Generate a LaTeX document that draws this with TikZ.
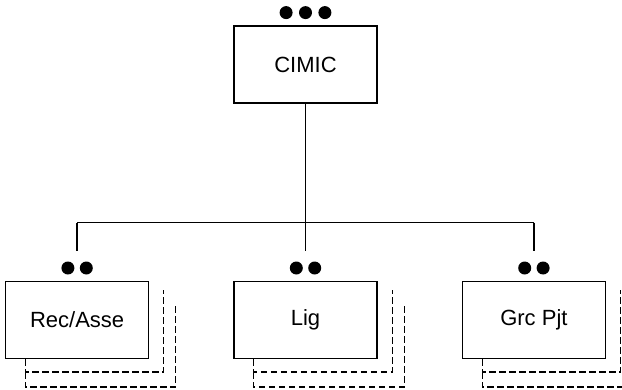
\documentclass[tikz,border=0pt]{standalone}
\usepackage{fontspec}
\setmainfont{Liberation Sans}
\usetikzlibrary{positioning}

\tikzset{
	unitbox/.style={draw, line width=1.4pt, minimum width=143pt, minimum height=77pt, inner sep=0pt, font=\fontsize{22}{26}\selectfont},
	dot/.style={circle, fill, inner sep=0pt, minimum size=13pt},
	link/.style={line width=1.3pt},
	shadowline/.style={line width=1.3pt, dash pattern=on 6.5pt off 3.5pt}
}

\begin{document}
\begin{tikzpicture}[x=1pt, y=-1pt]
	\useasboundingbox (0,0) rectangle (622,389);

	\node[unitbox] (cimic) at (305.5,64.5) {CIMIC};
	\node[unitbox, below=177pt of cimic] (lig) {Lig};
	\node[unitbox, left=84pt of lig] (rec) {Rec/Asse};
	\node[unitbox, right=84pt of lig] (grc) {Grc Pjt};

	% three dots over the head unit, two over each sub unit
	\node[dot, above=6pt of cimic] (cimicDot2) {};
	\node[dot, left=6pt of cimicDot2] (cimicDot1) {};
	\node[dot, right=6pt of cimicDot2] (cimicDot3) {};
	\foreach \b in {rec,lig,grc}{
		\node[dot, above=6pt of \b.north, xshift=-9.2pt] (\b Dot1) {};
		\node[dot, above=6pt of \b.north, xshift=9.2pt] (\b Dot2) {};
	}

	% tree lines
	\coordinate (bus) at (0,222.5);
	\draw[link] (cimic.south) -- (cimic.south |- bus);
	\draw[link] (rec |- bus) -- (grc |- bus);
	\foreach \b in {rec,lig,grc}{
		\coordinate (\b Top) at ([yshift=30pt]\b.north);
		\draw[link] (\b |- bus) -- (\b Top);
	}

	% dashed copies behind every sub unit
	\foreach \b in {rec,lig,grc}{
		\draw[shadowline] ([xshift=20.5pt]\b.south west) |- ([xshift=14.5pt, yshift=-13pt]\b.south east) -- ([xshift=14.5pt, yshift=-9pt]\b.north east);
		\draw[shadowline] ([xshift=20.5pt, yshift=-13pt]\b.south west) |- ([xshift=26.5pt, yshift=-28pt]\b.south east) -- ([xshift=26.5pt, yshift=-25pt]\b.north east);
	}
\end{tikzpicture}
\end{document}
